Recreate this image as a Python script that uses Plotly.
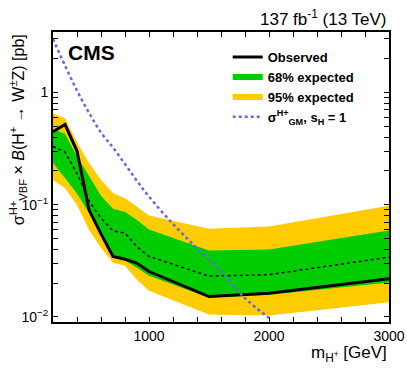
import plotly.graph_objects as go

# charged Higgs mass points [GeV]
mass = [200, 300, 400, 500, 600, 700, 800, 900, 1000, 1500, 2000, 3000]

# 95% CL upper limits on sigma x B [pb]
observed = [0.447, 0.52, 0.301, 0.090, 0.055, 0.0346, 0.0327, 0.0301, 0.0254, 0.0152, 0.0163, 0.0219]
expected = [0.33, 0.295, 0.19, 0.108, 0.076, 0.0585, 0.056, 0.042, 0.0346, 0.0231, 0.0238, 0.0341]
exp68_up = [0.47, 0.43, 0.27, 0.18, 0.12, 0.092, 0.086, 0.073, 0.060, 0.039, 0.040, 0.059]
exp68_dn = [0.235, 0.173, 0.125, 0.085, 0.054, 0.036, 0.0316, 0.0274, 0.0233, 0.0148, 0.0158, 0.0203]
exp95_up = [0.65, 0.59, 0.36, 0.235, 0.166, 0.127, 0.114, 0.096, 0.080, 0.061, 0.064, 0.098]
exp95_dn = [0.166, 0.141, 0.0996, 0.0597, 0.0413, 0.0304, 0.0286, 0.0215, 0.0171, 0.0105, 0.0103, 0.0135]

# GM model prediction, s_H = 1
gm_mass = [200, 300, 400, 500, 600, 700, 800, 900, 1000, 1200, 1400, 1600, 1800, 2000]
gm_xsec = [3.0, 1.74, 1.04, 0.66, 0.44, 0.323, 0.23, 0.163, 0.118, 0.0673, 0.0409, 0.0253, 0.0147, 0.0098]

x_major = [1000, 2000, 3000]
x_minor = list(range(200, 3001, 200))
y_major = [0.01, 0.1, 1]
y_major_text = ["10<sup>\u22122</sup>", "10<sup>\u22121</sup>", "1"]
y_minor = [round(v * k, 4) for v in [0.01, 0.1, 1] for k in range(1, 10)]

X_RANGE = [200, 3000]
Y_RANGE = [-2.045, 0.539]

FONT = "Liberation Sans, Arial, sans-serif"
GREEN = "#00cc00"
YELLOW = "#ffcc00"
BLUE = "#6666e6"


def band(lo, hi):
    return mass + mass[::-1], hi + lo[::-1]


fig = go.Figure()

bx, by = band(exp95_dn, exp95_up)
fig.add_trace(go.Scatter(x=bx, y=by, fill="toself", fillcolor=YELLOW, mode="none",
                         name="<b>95% expected</b>", legendrank=3))
bx, by = band(exp68_dn, exp68_up)
fig.add_trace(go.Scatter(x=bx, y=by, fill="toself", fillcolor=GREEN, mode="none",
                         name="<b>68% expected</b>", legendrank=2))
fig.add_trace(go.Scatter(x=mass, y=expected, mode="lines", showlegend=False,
                         line={"color": "black", "width": 1.5, "dash": "3px,3px"}))
fig.add_trace(go.Scatter(x=mass, y=observed, mode="lines", name="<b>Observed</b>",
                         line={"color": "black", "width": 3}, legendrank=1))
fig.add_trace(go.Scatter(x=gm_mass, y=gm_xsec, mode="lines", legendrank=4,
                         name="<b>\u03c3<sup>H+</sup><sub>GM</sub>, s<sub>H</sub> = 1</b>",
                         line={"color": BLUE, "width": 2.5, "dash": "dot", "shape": "spline"}))

frame = {"showgrid": False, "zeroline": False, "showline": True, "linecolor": "black",
         "linewidth": 2, "mirror": "allticks", "ticks": "inside", "tickcolor": "black",
         "tickwidth": 1, "automargin": False}

fig.update_layout(
    width=407,
    height=391,
    margin={"l": 53, "r": 18, "t": 32, "b": 69, "autoexpand": False},
    paper_bgcolor="white",
    plot_bgcolor="white",
    font={"family": FONT, "size": 14, "color": "black"},
    showlegend=True,
    legend={
        "x": 0.52, "y": 0.965, "xanchor": "left", "yanchor": "top",
        "bgcolor": "rgba(0,0,0,0)", "font": {"size": 13},
        "tracegroupgap": 0,
    },
    # short ticks every 200 GeV, labels on the thousands
    xaxis={**frame, "range": X_RANGE, "tickvals": x_minor,
           "ticktext": [str(v) if v in x_major else "" for v in x_minor],
           "ticklen": 5, "tickfont": {"size": 14}},
    xaxis2={**frame, "range": X_RANGE, "overlaying": "x", "anchor": "y", "side": "bottom",
            "tickvals": x_major, "ticklen": 10, "showticklabels": False},
    yaxis={**frame, "type": "log", "range": Y_RANGE, "tickvals": y_minor,
           "ticktext": [y_major_text[y_major.index(v)] if v in y_major else "" for v in y_minor],
           "ticklen": 5, "tickfont": {"size": 14}},
    yaxis2={**frame, "type": "log", "range": Y_RANGE, "overlaying": "y", "anchor": "x",
            "side": "left", "tickvals": y_major, "ticklen": 9, "showticklabels": False},
)

fig.add_annotation(text="<b>CMS</b>", xref="paper", yref="paper", x=0.04, y=0.975,
                   xanchor="left", yanchor="top", showarrow=False,
                   font={"size": 21, "family": FONT})
fig.add_annotation(text="137 fb<sup>-1</sup> (13 TeV)", xref="paper", yref="paper",
                   x=1.0, y=1.005, xanchor="right", yanchor="bottom", showarrow=False,
                   font={"size": 17, "family": FONT})
fig.add_annotation(text="m<sub>H<sup>+</sup></sub> [GeV]", xref="paper", yref="paper",
                   x=1.0, y=-0.066, xanchor="right", yanchor="top", showarrow=False,
                   font={"size": 17, "family": FONT})
fig.add_annotation(
    text="\u03c3<sup>H+</sup><sub>VBF</sub> \u00d7 <i>B</i>(H<sup>+</sup> \u2192 W<sup>\u00b1</sup>Z) [pb]",
    xref="paper", yref="paper", x=-0.105, y=1.0, xanchor="center", yanchor="top",
    textangle=-90, showarrow=False, font={"size": 16, "family": FONT})

# drop the browser's default page margin so the figure sits at the window origin
fig.write_html("out.html", config={"displayModeBar": False},
               post_script="document.body.style.margin='0';")
